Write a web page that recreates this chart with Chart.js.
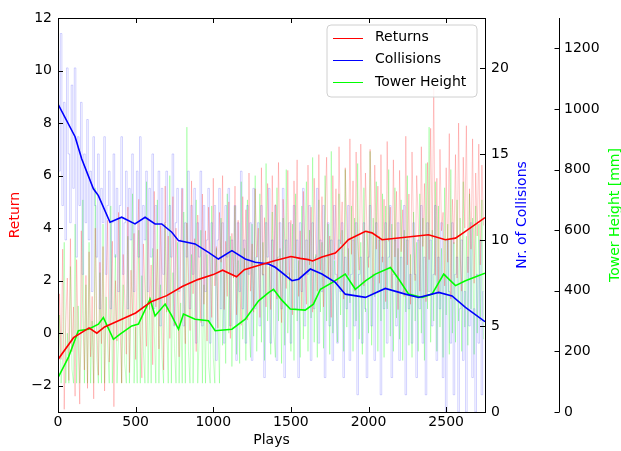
<!DOCTYPE html>
<html>
<head>
<meta charset="utf-8">
<script src="https://cdn.jsdelivr.net/npm/chart.js@4/dist/chart.umd.min.js"></script>
<style>
  html, body { margin: 0; padding: 0; background: #fff; }
  canvas { display: block; }
</style>
</head>
<body>
<canvas id="chart" width="621" height="451"></canvas>
<script>
// smoothed curves (play, value)
const returnPlays = [0, 100, 200, 250, 300, 400, 500, 600, 700, 800, 900, 1000, 1060, 1150, 1200, 1300, 1400, 1500, 1560, 1612, 1640, 1700, 1786, 1829, 1870, 1980, 2022, 2087, 2237, 2386, 2495, 2560, 2624, 2750];
const returnSmooth = [-1.0, -0.17, 0.2, 0.0, 0.24, 0.5, 0.77, 1.2, 1.43, 1.78, 2.04, 2.23, 2.4, 2.15, 2.42, 2.6, 2.77, 2.92, 2.85, 2.8, 2.75, 2.9, 3.05, 3.3, 3.56, 3.88, 3.82, 3.56, 3.65, 3.75, 3.56, 3.62, 3.88, 4.4];

const collisionPlays = [0, 110, 153, 228, 260, 335, 410, 496, 561, 625, 668, 733, 776, 883, 969, 1033, 1120, 1206, 1270, 1356, 1399, 1507, 1550, 1625, 1700, 1786, 1850, 1980, 2108, 2237, 2323, 2452, 2538, 2624, 2750];
const collisionSmooth = [17.9, 16.0, 14.7, 12.97, 12.58, 11.03, 11.32, 10.93, 11.32, 10.93, 10.93, 10.45, 9.96, 9.77, 9.28, 8.89, 9.38, 8.89, 8.7, 8.6, 8.41, 7.63, 7.72, 8.31, 8.02, 7.53, 6.85, 6.66, 7.18, 6.85, 6.66, 6.95, 6.75, 6.08, 5.25];

const towerPlays = [0, 67, 131, 196, 260, 292, 357, 400, 475, 518, 593, 625, 690, 733, 776, 808, 883, 969, 1012, 1120, 1206, 1292, 1356, 1388, 1440, 1496, 1592, 1645, 1690, 1765, 1850, 1915, 1980, 2044, 2141, 2194, 2258, 2345, 2409, 2484, 2560, 2624, 2750];
const towerSmooth = [113, 180, 268, 273, 290, 312, 240, 257, 284, 290, 372, 317, 356, 317, 273, 323, 306, 301, 268, 273, 306, 367, 394, 405, 370, 340, 336, 356, 405, 427, 455, 405, 433, 455, 477, 439, 389, 378, 389, 455, 417, 433, 458];

// raw values, one sample every 10 plays
const rawStep = 10;
const returnRaw = [
  -2.6, 1.5, -1.0, 3.2, -2.9, 0.4, 2.1, -1.8, 3.6, -0.7,
  1.0, -2.4, 2.8, -0.2, -2.7, 3.9, 0.6, -1.4, 2.2, -2.1,
  3.1, -0.9, 1.4, -2.5, 4.0, 0.3, -1.6, 2.7, -0.4, 3.3,
  -2.2, 1.9, 4.3, -1.1, 0.8, 3.5, -2.8, 2.0, -0.3, 4.6,
  0.2, -1.9, 3.0, 1.3, -0.8, 4.8, -1.5, 2.4, 0.7, 3.8,
  -1.0, 2.9, 5.1, 0.0, -1.7, 3.4, 1.6, -0.5, 4.4, 0.9,
  2.6, -1.2, 5.4, 1.0, 3.2, -0.6, 4.1, 2.0, -1.4, 5.6,
  0.8, 3.7, -0.2, 2.5, 5.2, 0.3, 4.0, 1.7, -0.9, 3.1,
  5.5, 1.2, -0.4, 4.2, 2.3, 0.1, 5.8, 1.5, 3.6, -0.7,
  4.5, 2.0, 0.4, 5.3, 1.1, 3.9, -0.3, 4.8, 2.6, 0.6,
  5.9, 1.8, 3.3, 0.2, 4.6, 2.7, 6.0, 0.9, 3.5, 1.4,
  5.0, -0.2, 3.8, 2.1, 5.6, 0.7, 4.3, 1.9, 0.3, 5.2,
  2.4, 4.7, 0.5, 6.1, 1.6, 3.4, 0.8, 5.5, 2.9, 4.0,
  0.6, 6.3, 2.2, 4.4, 1.0, 5.7, 3.0, 0.9, 6.0, 2.5,
  4.9, 1.3, 6.5, 2.8, 0.4, 5.1, 3.6, 1.7, 6.2, 2.0,
  4.3, 0.7, 5.8, 2.9, 6.6, 1.4, 3.9, 0.9, 5.4, 3.2,
  1.1, 6.4, 2.6, 4.8, 0.8, 5.9, 3.3, 1.6, 6.8, 2.4,
  5.2, 1.0, 4.5, 6.7, 2.1, 3.7, 0.6, 6.0, 2.8, 5.5,
  1.9, 7.1, 3.4, 5.0, 1.3, 6.3, 4.2, 2.2, 7.4, 3.0,
  5.8, 1.6, 6.9, 3.6, 2.4, 7.2, 4.1, 1.8, 6.1, 3.9,
  2.5, 7.0, 4.4, 1.5, 6.4, 3.2, 5.6, 1.9, 6.8, 2.7,
  5.1, 1.2, 7.3, 3.5, 4.8, 1.7, 6.6, 2.9, 5.4, 0.9,
  6.2, 3.1, 4.7, 1.4, 7.5, 2.6, 5.3, 1.1, 6.9, 3.8,
  2.0, 6.0, 4.3, 1.6, 7.1, 3.3, 5.7, 1.2, 6.5, 2.8,
  7.8, 3.6, 9.4, 2.2, 5.9, 1.5, 7.0, 3.9, 4.6, 1.8,
  6.3, 2.7, 7.6, 1.3, 5.1, 3.4, 6.8, 2.1, 8.0, 3.0,
  1.6, 6.7, 4.0, 7.9, 2.3, 5.5, 3.2, 7.4, 1.9, 6.1,
  3.7, 7.2, 2.6, 6.4, 4.1
];
const collisionRaw = [
  21, 14, 22, 12, 18, 10, 20, 15, 11, 19,
  13, 20, 9, 16, 12, 18, 8, 15, 11, 17,
  10, 14, 7, 16, 12, 9, 15, 6, 13, 11,
  16, 8, 12, 14, 6, 11, 15, 9, 13, 7,
  12, 16, 8, 11, 14, 6, 13, 10, 15, 7,
  11, 14, 9, 16, 6, 12, 10, 14, 7, 13,
  9, 15, 6, 12, 11, 14, 5, 13, 8, 11,
  14, 6, 12, 9, 15, 5, 11, 13, 7, 10,
  13, 5, 11, 9, 14, 6, 12, 8, 13, 4,
  11, 9, 14, 5, 12, 7, 10, 13, 4, 11,
  8, 12, 3, 10, 13, 6, 11, 4, 12, 9,
  13, 5, 10, 8, 12, 3, 11, 7, 14, 6,
  10, 4, 12, 8, 11, 3, 13, 6, 9, 11,
  5, 12, 8, 2, 11, 9, 13, 4, 10, 7,
  12, 3, 9, 11, 6, 13, 2, 10, 8, 11,
  4, 9, 12, 6, 10, 2, 11, 7, 13, 5,
  10, 8, 12, 3, 11, 6, 9, 13, 4, 10,
  7, 12, 2, 9, 11, 5, 10, 3, 12, 8,
  4, 10, 7, 11, 2, 9, 6, 12, 3, 8,
  10, 5, 11, 1, 8, 9, 4, 11, 6, 2,
  9, 12, 5, 8, 3, 11, 7, 10, 1, 9,
  6, 11, 4, 9, 12, 2, 8, 10, 5, 11,
  3, 9, 7, 12, 1, 10, 6, 8, 4, 11,
  8, 2, 10, 6, 12, 4, 9, 1, 11, 7,
  10, 5, 8, 12, 3, 9, 6, 11, 2, 8,
  0, 10, 7, 4, 11, 1, 8, 9, 0, 6,
  10, 3, 7, 0, 9, 5, 11, 2, 6, 0,
  8, 4, 10, 1, 7
];
const towerRaw = [
  95, 320, 95, 180, 560, 95, 260, 95, 480, 140,
  95, 620, 95, 350, 95, 240, 700, 95, 420, 95,
  560, 95, 300, 95, 740, 180, 95, 460, 95, 620,
  95, 380, 220, 95, 680, 95, 300, 520, 95, 250,
  640, 95, 420, 160, 95, 580, 95, 340, 720, 95,
  280, 95, 600, 95, 450, 200, 95, 760, 95, 380,
  95, 540, 260, 95, 700, 95, 420, 180, 95, 620,
  300, 95, 780, 95, 460, 210, 95, 560, 95, 360,
  95, 660, 95, 940, 200, 95, 520, 95, 380, 700,
  95, 260, 600, 95, 420, 95, 520, 150, 95, 680,
  180, 95, 540, 300, 95, 640, 220, 460, 160, 720,
  260, 580, 150, 420, 680, 190, 500, 160, 760, 240,
  540, 170, 700, 300, 180, 620, 250, 780, 200, 460,
  720, 230, 560, 170, 820, 300, 480, 190, 660, 260,
  180, 740, 300, 540, 160, 640, 220, 800, 260, 460,
  200, 620, 170, 720, 300, 500, 180, 680, 240, 560,
  760, 200, 600, 310, 840, 230, 520, 180, 700, 330,
  560, 210, 780, 300, 620, 190, 860, 260, 500, 380,
  230, 720, 320, 600, 200, 800, 280, 540, 360, 680,
  200, 640, 300, 820, 240, 560, 190, 740, 330, 600,
  260, 860, 220, 640, 380, 760, 200, 580, 300, 720,
  180, 680, 340, 800, 250, 620, 200, 740, 310, 540,
  240, 700, 170, 600, 330, 780, 220, 520, 180, 660,
  300, 560, 200, 720, 260, 640, 170, 820, 340, 940,
  230, 600, 300, 760, 200, 680, 280, 540, 180, 740,
  320, 620, 190, 800, 260, 560, 230, 700, 300, 640,
  200, 760, 280, 580, 220, 720, 340, 640, 190, 680,
  260, 620, 300, 700, 240
];

const xTicks = [0, 500, 1000, 1500, 2000, 2500];

const RED = "#ff0000";
const BLUE = "#0000ff";
const GREEN = "#00ff00";

function pairs(xs, ys) {
  return ys.map((v, i) => ({ x: xs[i], y: v }));
}
function rawPairs(ys) {
  return ys.map((v, i) => ({ x: i * rawStep, y: v }));
}
function fixWidth(w) {
  return s => { s.width = w; };
}
function plain(v) {
  return String(v).replace("-", "\u2212");
}

// inner ticks, spines, rotated titles and the boxed legend
const frame = {
  id: "frame",
  afterDatasetsDraw(chart) {
    const { ctx, chartArea: a, scales } = chart;
    ctx.save();
    ctx.strokeStyle = "#000";
    ctx.lineWidth = 1;
    ctx.strokeRect(Math.round(a.left) + 0.5, Math.round(a.top) + 0.5,
      Math.round(a.right - a.left), Math.round(a.bottom - a.top));

    const tl = 5;
    ctx.beginPath();
    scales.x.ticks.forEach(t => {
      const px = Math.round(scales.x.getPixelForValue(t.value)) + 0.5;
      ctx.moveTo(px, a.bottom); ctx.lineTo(px, a.bottom - tl);
      ctx.moveTo(px, a.top); ctx.lineTo(px, a.top + tl);
    });
    scales.y.ticks.forEach(t => {
      const py = Math.round(scales.y.getPixelForValue(t.value)) + 0.5;
      ctx.moveTo(a.left, py); ctx.lineTo(a.left + tl, py);
    });
    scales.yC.ticks.forEach(t => {
      const py = Math.round(scales.yC.getPixelForValue(t.value)) + 0.5;
      ctx.moveTo(a.right, py); ctx.lineTo(a.right - tl, py);
    });
    const xt = Math.round(scales.yT.left) + 0.5;
    ctx.moveTo(xt, a.top); ctx.lineTo(xt, a.bottom);
    scales.yT.ticks.forEach(t => {
      const py = Math.round(scales.yT.getPixelForValue(t.value)) + 0.5;
      ctx.moveTo(xt, py); ctx.lineTo(xt - tl, py);
    });
    ctx.stroke();

    // axis titles
    ctx.font = "14px 'DejaVu Sans', sans-serif";
    ctx.textAlign = "center";
    ctx.textBaseline = "middle";
    ctx.fillStyle = "#000";
    ctx.fillText("Plays", (a.left + a.right) / 2, 440);
    const midY = (a.top + a.bottom) / 2;
    [["Return", 15, RED], ["Nr. of Collisions", 522, BLUE], ["Tower Height [mm]", 615, GREEN]]
      .forEach(([txt, x, col]) => {
        ctx.save();
        ctx.translate(x, midY);
        ctx.rotate(-Math.PI / 2);
        ctx.fillStyle = col;
        ctx.fillText(txt, 0, 0);
        ctx.restore();
      });

    // legend
    const items = chart.data.datasets.filter(d => d.inLegend);
    const bx = 327, by = 25, bw = 150, bh = 72, r = 4;
    ctx.beginPath();
    ctx.moveTo(bx + r, by);
    ctx.arcTo(bx + bw, by, bx + bw, by + bh, r);
    ctx.arcTo(bx + bw, by + bh, bx, by + bh, r);
    ctx.arcTo(bx, by + bh, bx, by, r);
    ctx.arcTo(bx, by, bx + bw, by, r);
    ctx.closePath();
    ctx.fillStyle = "rgba(255,255,255,0.85)";
    ctx.fill();
    ctx.strokeStyle = "#d0d0d0";
    ctx.stroke();
    ctx.textAlign = "left";
    items.forEach((d, i) => {
      const y = 37.5 + i * 22.3;
      ctx.beginPath();
      ctx.strokeStyle = d.borderColor;
      ctx.lineWidth = 1;
      ctx.moveTo(333, Math.round(y) + 0.5);
      ctx.lineTo(363, Math.round(y) + 0.5);
      ctx.stroke();
      ctx.fillStyle = "#000";
      ctx.fillText(d.label, 375, y);
    });
    ctx.restore();
  }
};

Chart.defaults.font.family = "'DejaVu Sans', sans-serif";
Chart.defaults.font.size = 14;
Chart.defaults.color = "#000";

const noGrid = { display: false, drawTicks: false };

new Chart(document.getElementById("chart"), {
  type: "line",
  data: {
    datasets: [
      { label: "Returns", inLegend: true, data: pairs(returnPlays, returnSmooth), yAxisID: "y",
        borderColor: RED, borderWidth: 1.6, order: 0 },
      { label: "Collisions", inLegend: true, data: pairs(collisionPlays, collisionSmooth), yAxisID: "yC",
        borderColor: BLUE, borderWidth: 1.6, order: 0 },
      { label: "Tower Height", inLegend: true, data: pairs(towerPlays, towerSmooth), yAxisID: "yT",
        borderColor: GREEN, borderWidth: 1.6, order: 0 },
      { label: "Returns raw", data: rawPairs(returnRaw), yAxisID: "y",
        borderColor: "rgba(255,0,0,0.2)", borderWidth: 1, order: 1 },
      { label: "Collisions raw", data: rawPairs(collisionRaw), yAxisID: "yC", stepped: "middle",
        borderColor: "rgba(0,0,255,0.18)", borderWidth: 1, order: 1 },
      { label: "Tower Height raw", data: rawPairs(towerRaw), yAxisID: "yT",
        borderColor: "rgba(0,255,0,0.22)", borderWidth: 1, order: 1 }
    ]
  },
  options: {
    responsive: false,
    animation: false,
    devicePixelRatio: 1,
    layout: { padding: { top: 18, left: 0, right: 0, bottom: 0 } },
    elements: { point: { radius: 0 }, line: { tension: 0 } },
    plugins: { legend: { display: false }, tooltip: { enabled: false } },
    scales: {
      x: {
        type: "linear", min: 0, max: 2750,
        afterFit: s => { s.height = 39; },
        afterBuildTicks: s => { s.ticks = xTicks.map(v => ({ value: v })); },
        grid: noGrid, border: { display: false },
        ticks: { padding: 2, maxRotation: 0, callback: plain }
      },
      y: {
        position: "left", min: -3, max: 12,
        afterFit: fixWidth(58),
        grid: noGrid, border: { display: false },
        ticks: { stepSize: 2, includeBounds: false, padding: 6, callback: plain }
      },
      yC: {
        position: "right", min: 0, max: 22.9,
        afterFit: fixWidth(74),
        grid: noGrid, border: { display: false },
        ticks: { stepSize: 5, includeBounds: false, padding: 6, callback: plain }
      },
      yT: {
        position: "right", min: 0, max: 1300,
        afterFit: fixWidth(62),
        grid: noGrid, border: { display: false },
        ticks: { stepSize: 200, includeBounds: false, padding: 5, callback: plain }
      }
    }
  },
  plugins: [frame]
});
</script>
</body>
</html>
